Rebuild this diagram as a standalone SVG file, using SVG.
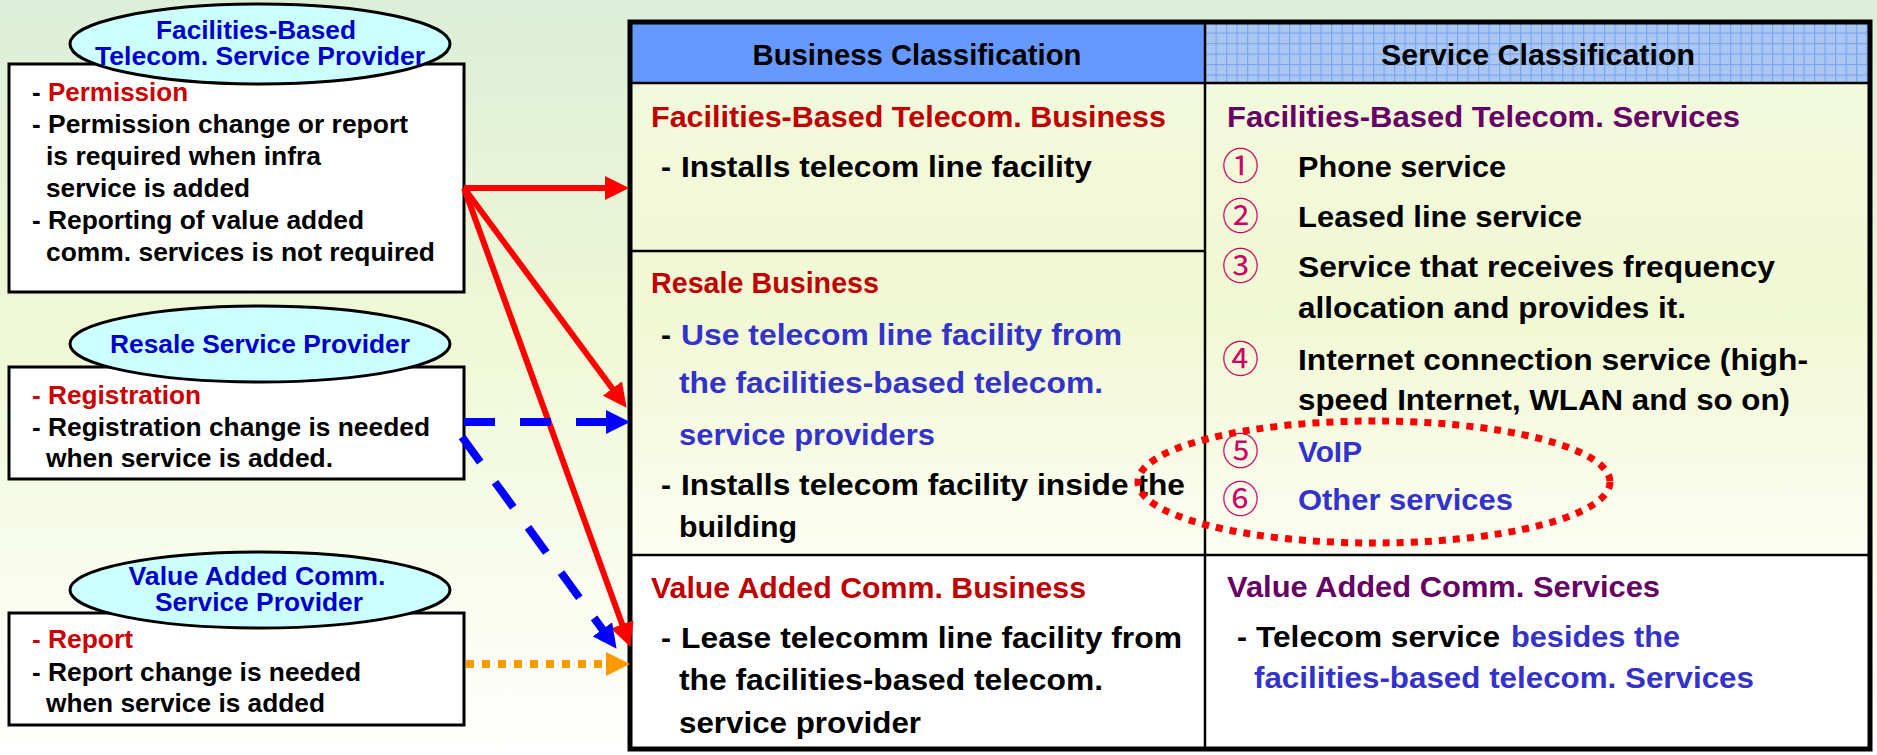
<svg xmlns="http://www.w3.org/2000/svg" width="1877" height="755" viewBox="0 0 1877 755">
  <defs>
    <linearGradient id="bg" x1="0" y1="0" x2="0" y2="1">
      <stop offset="0" stop-color="#DDEED8"/>
      <stop offset="0.45" stop-color="#F0F8D6"/>
      <stop offset="1" stop-color="#FFFFFF"/>
    </linearGradient>
    <linearGradient id="cellFill" x1="0" y1="0" x2="0" y2="1">
      <stop offset="0" stop-color="#F3F9DC"/>
      <stop offset="0.5" stop-color="#F1F8D4"/>
      <stop offset="1" stop-color="#FCFEF2"/>
    </linearGradient>
    <pattern id="grid" x="1205" y="22" width="10.5" height="10.5" patternUnits="userSpaceOnUse">
      <rect width="10.5" height="10.5" fill="#AAC7F2"/>
      <path d="M0,0.6 H10.5 M0.6,0 V10.5" stroke="#7AA5F0" stroke-width="1.2" fill="none"/>
    </pattern>
    <marker id="arRed" markerUnits="userSpaceOnUse" markerWidth="24" markerHeight="24" viewBox="0 0 24 24" refX="1" refY="12" orient="auto">
      <path d="M0,0 L24,12 L0,24 z" fill="#FF0000"/>
    </marker>
    <marker id="arBlue" markerUnits="userSpaceOnUse" markerWidth="24" markerHeight="24" viewBox="0 0 24 24" refX="1" refY="12" orient="auto">
      <path d="M0,0 L24,12 L0,24 z" fill="#0000FF"/>
    </marker>
    <marker id="arOrange" markerUnits="userSpaceOnUse" markerWidth="24" markerHeight="24" viewBox="0 0 24 24" refX="1" refY="12" orient="auto">
      <path d="M0,0 L24,12 L0,24 z" fill="#FF9900"/>
    </marker>
    <style>
      .lt { font-family: "Liberation Sans", Arial, sans-serif; font-weight: bold; font-size: 26px; fill: #000; }
      .el { font-family: "Liberation Sans", Arial, sans-serif; font-weight: bold; font-size: 26px; fill: #0000CC; text-anchor: middle; }
      .tb { font-family: "Liberation Sans", Arial, sans-serif; font-weight: bold; font-size: 30px; fill: #000; }
      .num { font-family: "Noto Sans CJK JP", "DejaVu Sans", sans-serif; font-size: 37px; fill: #CC0066; }
      .red { fill: #CC0000; }
      .dred { fill: #C00000; }
      .blue { fill: #3333CC; }
      .purple { fill: #660066; }
      .box { fill: #FFFFFF; stroke: #000; stroke-width: 3; }
      .oval { fill: #CCFFFF; stroke: #000; stroke-width: 3; }
      .grid-line { stroke: #000; stroke-width: 2.5; fill: none; }
    </style>
  </defs>

  <!-- page background -->
  <rect x="0" y="0" width="1877" height="755" fill="url(#bg)"/>

  <!-- facilities-based provider -->
  <g id="provider-facilities">
    <rect class="box" x="9" y="64" width="455" height="228"/>
    <ellipse class="oval" cx="260" cy="44" rx="190" ry="40"/>
    <text class="el" x="256" y="39" textLength="200" lengthAdjust="spacingAndGlyphs">Facilities-Based</text>
    <text class="el" x="260" y="65" textLength="330" lengthAdjust="spacingAndGlyphs">Telecom. Service Provider</text>
    <text class="lt" x="32" y="101">-</text>
    <text class="lt red" x="48" y="101" textLength="140" lengthAdjust="spacingAndGlyphs">Permission</text>
    <text class="lt" x="32" y="133">-</text>
    <text class="lt" x="48" y="133" textLength="360" lengthAdjust="spacingAndGlyphs">Permission change or report</text>
    <text class="lt" x="46" y="165" textLength="275" lengthAdjust="spacingAndGlyphs">is required when infra</text>
    <text class="lt" x="46" y="197" textLength="204" lengthAdjust="spacingAndGlyphs">service is added</text>
    <text class="lt" x="32" y="229">-</text>
    <text class="lt" x="48" y="229" textLength="316" lengthAdjust="spacingAndGlyphs">Reporting of value added</text>
    <text class="lt" x="46" y="261" textLength="389" lengthAdjust="spacingAndGlyphs">comm. services is not required</text>
  </g>

  <!-- resale provider -->
  <g id="provider-resale">
    <rect class="box" x="9" y="367" width="455" height="112"/>
    <ellipse class="oval" cx="260" cy="344" rx="190" ry="38"/>
    <text class="el" x="260" y="353" textLength="300" lengthAdjust="spacingAndGlyphs">Resale Service Provider</text>
    <text class="lt red" x="32" y="404">-</text>
    <text class="lt red" x="48" y="404" textLength="153" lengthAdjust="spacingAndGlyphs">Registration</text>
    <text class="lt" x="32" y="436">-</text>
    <text class="lt" x="48" y="436" textLength="382" lengthAdjust="spacingAndGlyphs">Registration change is needed</text>
    <text class="lt" x="46" y="467" textLength="287" lengthAdjust="spacingAndGlyphs">when service is added.</text>
  </g>

  <!-- value added comm. provider -->
  <g id="provider-value-added">
    <rect class="box" x="9" y="613" width="455" height="112"/>
    <ellipse class="oval" cx="260" cy="590" rx="190" ry="38"/>
    <text class="el" x="257" y="585" textLength="257" lengthAdjust="spacingAndGlyphs">Value Added Comm.</text>
    <text class="el" x="259" y="611" textLength="208" lengthAdjust="spacingAndGlyphs">Service Provider</text>
    <text class="lt red" x="32" y="648">-</text>
    <text class="lt red" x="48" y="648" textLength="85" lengthAdjust="spacingAndGlyphs">Report</text>
    <text class="lt" x="32" y="681">-</text>
    <text class="lt" x="48" y="681" textLength="313" lengthAdjust="spacingAndGlyphs">Report change is needed</text>
    <text class="lt" x="46" y="712" textLength="279" lengthAdjust="spacingAndGlyphs">when service is added</text>
  </g>

  <!-- classification table -->
  <g id="classification-table">
    <rect x="630" y="83" width="1240" height="472" fill="url(#cellFill)"/>
    <rect x="630" y="555" width="1240" height="194" fill="#FFFFFF"/>
    <rect x="630" y="22" width="575" height="61" fill="#6699FF"/>
    <rect x="1205" y="22" width="665" height="61" fill="url(#grid)"/>
    <path class="grid-line" d="M630,83 H1870" stroke-width="3"/>
    <path class="grid-line" d="M630,251 H1205"/>
    <path class="grid-line" d="M630,555 H1870"/>
    <path class="grid-line" d="M1205,22 V749"/>
    <rect x="630" y="22" width="1240" height="727" fill="none" stroke="#000" stroke-width="5"/>

    <g id="header-business">
      <text class="tb" x="917" y="65" text-anchor="middle" textLength="329" lengthAdjust="spacingAndGlyphs">Business Classification</text>
    </g>
    <g id="header-service">
      <text class="tb" x="1538" y="65" text-anchor="middle" textLength="314" lengthAdjust="spacingAndGlyphs">Service Classification</text>
    </g>

    <g id="business-facilities">
      <text class="tb dred" x="651" y="127" textLength="515" lengthAdjust="spacingAndGlyphs">Facilities-Based Telecom. Business</text>
      <text class="tb" x="661" y="177">-</text>
      <text class="tb" x="681" y="177" textLength="411" lengthAdjust="spacingAndGlyphs">Installs telecom line facility</text>
    </g>

    <g id="business-resale">
      <text class="tb dred" x="651" y="293" textLength="228" lengthAdjust="spacingAndGlyphs">Resale Business</text>
      <text class="tb" x="661" y="345">-</text>
      <text class="tb blue" x="681" y="345" textLength="441" lengthAdjust="spacingAndGlyphs">Use telecom line facility from</text>
      <text class="tb blue" x="679" y="393" textLength="424" lengthAdjust="spacingAndGlyphs">the facilities-based telecom.</text>
      <text class="tb blue" x="679" y="445" textLength="256" lengthAdjust="spacingAndGlyphs">service providers</text>
      <text class="tb" x="661" y="495">-</text>
      <text class="tb" x="681" y="495" textLength="504" lengthAdjust="spacingAndGlyphs">Installs telecom facility inside the</text>
      <text class="tb" x="679" y="537" textLength="118" lengthAdjust="spacingAndGlyphs">building</text>
    </g>

    <g id="business-value-added">
      <text class="tb dred" x="651" y="598" textLength="435" lengthAdjust="spacingAndGlyphs">Value Added Comm. Business</text>
      <text class="tb" x="661" y="648">-</text>
      <text class="tb" x="681" y="648" textLength="501" lengthAdjust="spacingAndGlyphs">Lease telecomm line facility from</text>
      <text class="tb" x="679" y="690" textLength="424" lengthAdjust="spacingAndGlyphs">the facilities-based telecom.</text>
      <text class="tb" x="679" y="733" textLength="242" lengthAdjust="spacingAndGlyphs">service provider</text>
    </g>

    <g id="service-facilities">
      <text class="tb purple" x="1227" y="127" textLength="513" lengthAdjust="spacingAndGlyphs">Facilities-Based Telecom. Services</text>
      <text class="num" x="1222" y="180">①</text>
      <text class="tb" x="1298" y="177" textLength="208" lengthAdjust="spacingAndGlyphs">Phone service</text>
      <text class="num" x="1222" y="230">②</text>
      <text class="tb" x="1298" y="227" textLength="284" lengthAdjust="spacingAndGlyphs">Leased line service</text>
      <text class="num" x="1222" y="280">③</text>
      <text class="tb" x="1298" y="277" textLength="477" lengthAdjust="spacingAndGlyphs">Service that receives frequency</text>
      <text class="tb" x="1298" y="318" textLength="388" lengthAdjust="spacingAndGlyphs">allocation and provides it.</text>
      <text class="num" x="1222" y="373">④</text>
      <text class="tb" x="1298" y="370" textLength="510" lengthAdjust="spacingAndGlyphs">Internet connection service (high-</text>
      <text class="tb" x="1298" y="410" textLength="492" lengthAdjust="spacingAndGlyphs">speed Internet, WLAN and so on)</text>
      <text class="num" x="1222" y="465">⑤</text>
      <text class="tb blue" x="1298" y="462" textLength="64" lengthAdjust="spacingAndGlyphs">VoIP</text>
      <text class="num" x="1222" y="513">⑥</text>
      <text class="tb blue" x="1298" y="510" textLength="215" lengthAdjust="spacingAndGlyphs">Other services</text>
    </g>

    <g id="service-value-added">
      <text class="tb purple" x="1227" y="597" textLength="433" lengthAdjust="spacingAndGlyphs">Value Added Comm. Services</text>
      <text class="tb" x="1237" y="647">-</text>
      <text class="tb" x="1256" y="647" textLength="244" lengthAdjust="spacingAndGlyphs">Telecom service</text>
      <text class="tb blue" x="1511" y="647" textLength="169" lengthAdjust="spacingAndGlyphs">besides the</text>
      <text class="tb blue" x="1254" y="688" textLength="500" lengthAdjust="spacingAndGlyphs">facilities-based telecom. Services</text>
    </g>

    <!-- highlight around VoIP / other services -->
    <ellipse id="highlight" cx="1374" cy="482" rx="236" ry="61" fill="none" stroke="#FF0000" stroke-width="7" stroke-dasharray="7 7"/>
  </g>

  <!-- connectors -->
  <g id="connectors" fill="none">
    <path d="M464,188 L606,188" stroke="#FF0000" stroke-width="6" marker-end="url(#arRed)"/>
    <path d="M464,188 L612.9,389.3" stroke="#FF0000" stroke-width="6" marker-end="url(#arRed)"/>
    <path d="M464,188 L622.5,625.3" stroke="#FF0000" stroke-width="6" marker-end="url(#arRed)"/>
    <path d="M464,422 L607,422" stroke="#0000FF" stroke-width="8" stroke-dasharray="31 25" marker-end="url(#arBlue)"/>
    <path d="M462,437 L603,630.2" stroke="#0000FF" stroke-width="8" stroke-dasharray="31 25" marker-end="url(#arBlue)"/>
    <path d="M466,664 L607,664" stroke="#FF9900" stroke-width="8" stroke-dasharray="8 8" marker-end="url(#arOrange)"/>
  </g>
</svg>
